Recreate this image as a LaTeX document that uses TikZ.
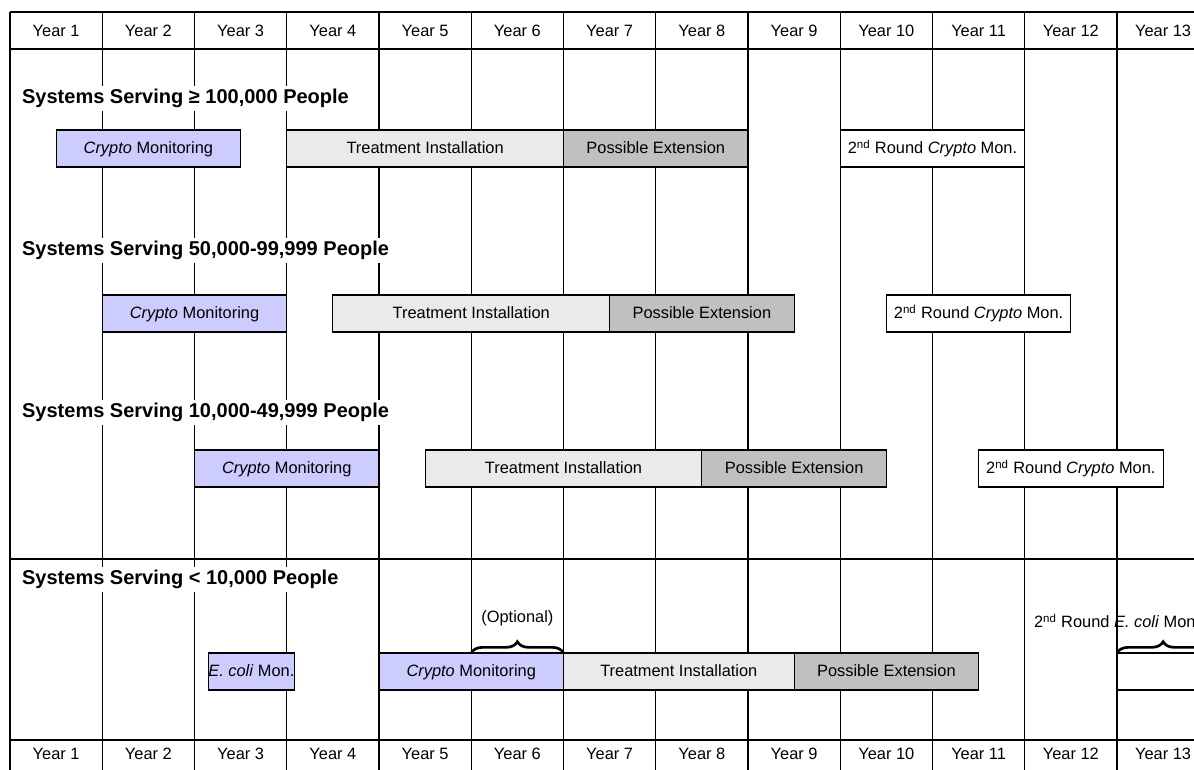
\documentclass[tikz,border=0pt]{standalone}
\usepackage{fontspec}
\setmainfont{Liberation Sans}
\usetikzlibrary{positioning, calc, decorations.pathreplacing}

\definecolor{cryptoblue}{RGB}{204,204,255}
\definecolor{treatgray}{RGB}{234,234,234}
\definecolor{extgray}{RGB}{192,192,192}

\tikzset{
    grid line/.style = {line width=1.1pt},
    year/.style = {font=\fontsize{12.3}{14}\selectfont, anchor=center},
    title/.style = {font=\fontsize{15}{18}\selectfont\bfseries, anchor=west, fill=white, inner sep=2pt},
    phase/.style = {draw, line width=0.9pt, outer sep=0pt, inner sep=0pt, minimum height=27.75pt,
                    text height=8.8pt, text depth=0.6pt,
                    anchor=north west, font=\fontsize{12.3}{14}\selectfont},
    crypto/.style = {phase, fill=cryptoblue},
    treat/.style = {phase, fill=treatgray},
    ext/.style = {phase, fill=extgray},
    round2/.style = {phase, fill=white},
    bracket/.style = {decorate, decoration={brace, amplitude=8.5pt}, line width=2pt},
}

% style, name, from column, to column, top, text
\newcommand{\phasebar}[6]{\node[#1, minimum width={(#4-#3)*69.1875pt}] (#2) at (#3,#5) {#6};}

\begin{document}
\begin{tikzpicture}[x=69.1875pt, y=-0.75pt]
    \useasboundingbox (-0.1084,0) rectangle (12.8347,769);
    \clip (-0.1084,0) rectangle (12.8347,769);

    % year grid
    \foreach \i in {0,...,13}
        \draw[grid line] (\i,12) -- (\i,777);
    \foreach \y in {12, 49, 559, 740, 777}
        \draw[grid line] (0,\y) -- (13.5,\y);
    \foreach \i in {1,...,13}{
        \node[year] (top\i) at (\i-0.5,30.5) {Year \i};
        \node[year] (bot\i) at (\i-0.5,754) {Year \i};
    }

    \node[title] (t1) at (0.1,98.5) {Systems Serving ≥ 100,000 People};
    \node[title] (t2) at (0.1,250.5) {Systems Serving 50,000-99,999 People};
    \node[title] (t3) at (0.1,412.5) {Systems Serving 10,000-49,999 People};
    \node[title] (t4) at (0.1,579.5) {Systems Serving < 10,000 People};

    \phasebar{crypto}{c1}{0.5}{2.5}{130}{\textit{Crypto} Monitoring}
    \phasebar{treat}{ti1}{3}{6}{130}{Treatment Installation}
    \phasebar{ext}{pe1}{6}{8}{130}{Possible Extension}
    \phasebar{round2}{r1}{9}{11}{130}{2\textsuperscript{nd} Round \textit{Crypto} Mon.}

    \phasebar{crypto}{c2}{1}{3}{295}{\textit{Crypto} Monitoring}
    \phasebar{treat}{ti2}{3.5}{6.5}{295}{Treatment Installation}
    \phasebar{ext}{pe2}{6.5}{8.5}{295}{Possible Extension}
    \phasebar{round2}{r2}{9.5}{11.5}{295}{2\textsuperscript{nd} Round \textit{Crypto} Mon.}

    \phasebar{crypto}{c3}{2}{4}{450}{\textit{Crypto} Monitoring}
    \phasebar{treat}{ti3}{4.5}{7.5}{450}{Treatment Installation}
    \phasebar{ext}{pe3}{7.5}{9.5}{450}{Possible Extension}
    \phasebar{round2}{r3}{10.5}{12.5}{450}{2\textsuperscript{nd} Round \textit{Crypto} Mon.}

    \phasebar{crypto}{ec}{2.15}{3.05}{653}{\textit{E. coli} Mon.}
    \phasebar{crypto}{c4}{4}{6}{653}{\textit{Crypto} Monitoring}
    \phasebar{treat}{ti4}{6}{8.5}{653}{Treatment Installation}
    \phasebar{ext}{pe4}{8.5}{10.5}{653}{Possible Extension}
    \phasebar{round2}{e2}{12}{13}{653}{}

    \draw[bracket] (c4.north) -- (c4.north east);
    \node[year] (opt) at (5.5,618) {(Optional)};
    \draw[bracket] (e2.north west) -- (e2.north east);
    \node[year, anchor=west] (e2lab) at (11.05,621) {2\textsuperscript{nd} Round \textit{E. coli} Mon.};
\end{tikzpicture}
\end{document}
